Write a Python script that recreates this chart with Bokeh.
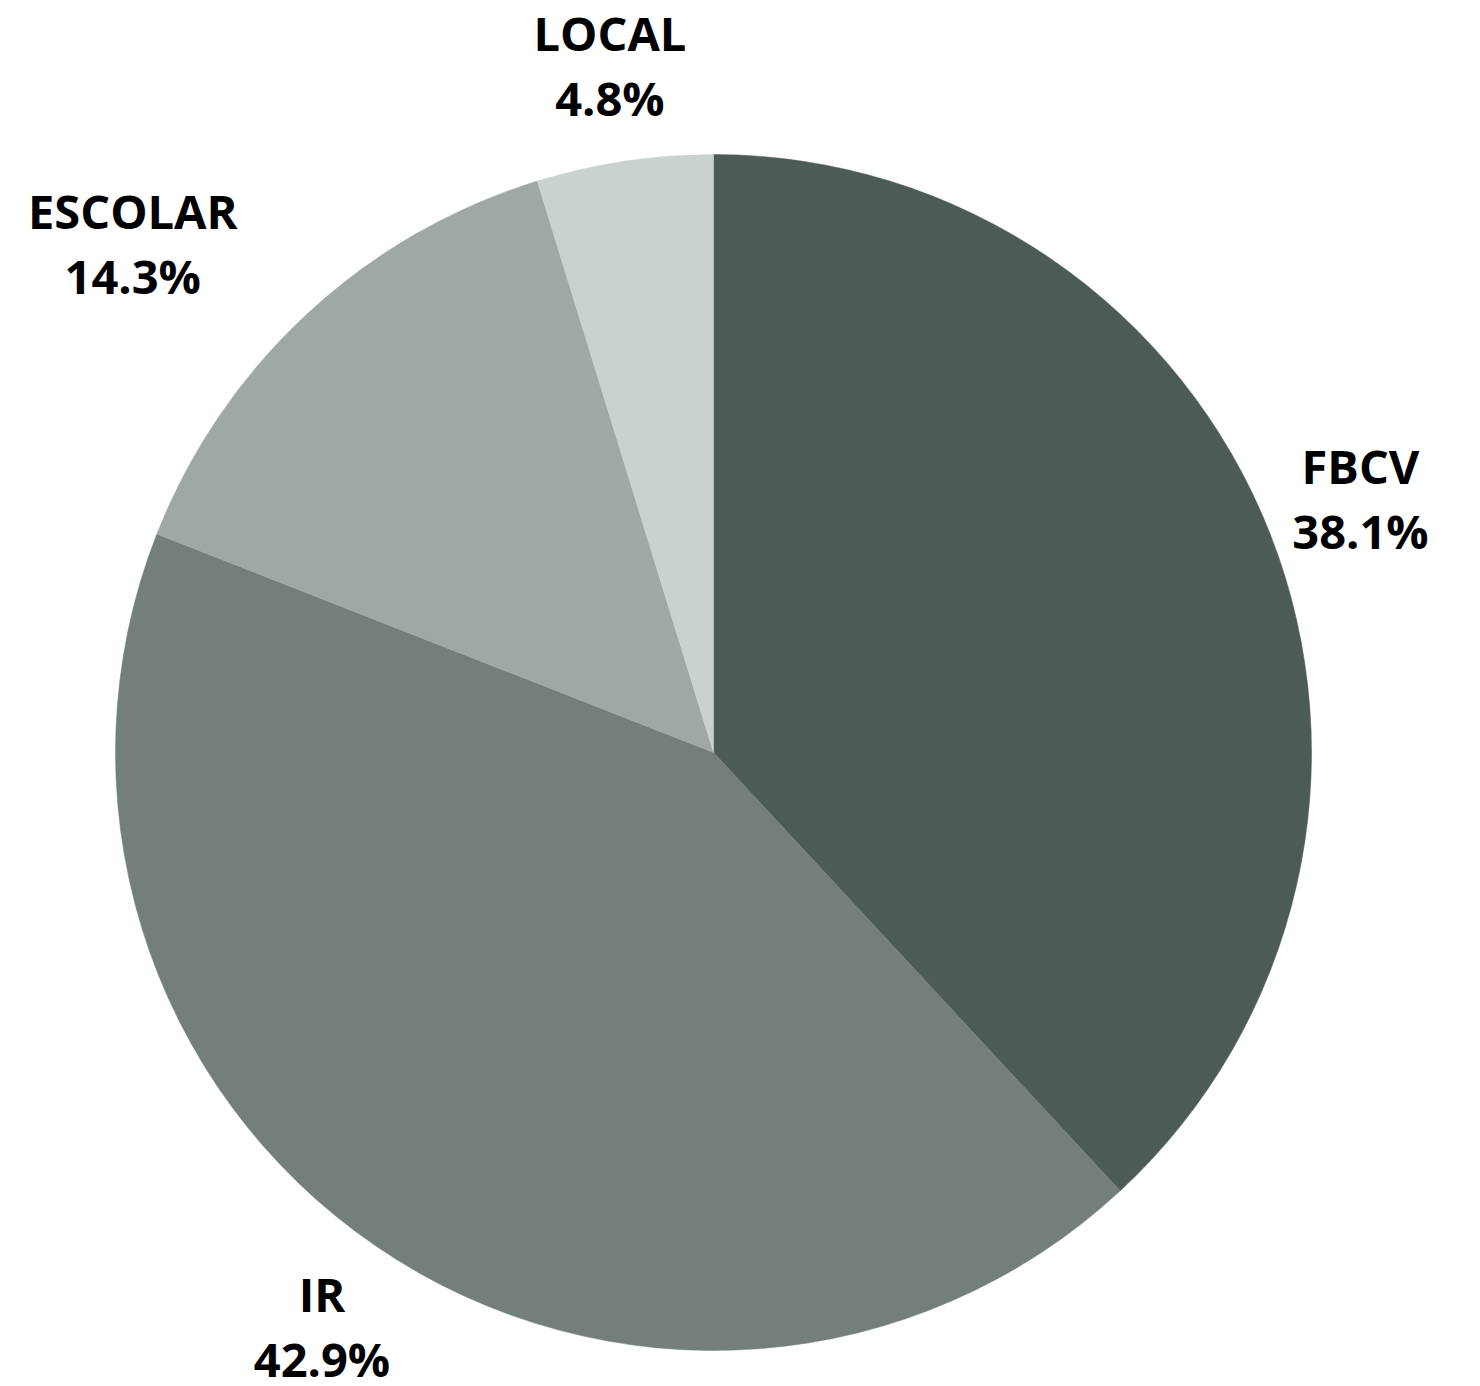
import math
from bokeh.plotting import figure
from bokeh.models import ColumnDataSource
from bokeh.core.properties import value
from bokeh.embed import file_html
from bokeh.resources import INLINE

categories = ["FBCV", "IR", "ESCOLAR", "LOCAL"]
counts = [8, 9, 3, 1]
colors = ["#4d5b58", "#747f7c", "#a0a8a7", "#c9d2d1"]

W, H = 1472, 1386
cx, cy = 713, 634
R = 598
LABEL_R = 695
nudge = {"ESCOLAR": (-108, 0)}

total = sum(counts)
starts, ends, lx, ly, pct = [], [], [], [], []
cum = 0
for c, v in zip(categories, counts):
    a0 = math.pi / 2 - 2 * math.pi * cum / total
    cum += v
    a1 = math.pi / 2 - 2 * math.pi * cum / total
    starts.append(a0)
    ends.append(a1)
    mid = (a0 + a1) / 2
    dx, dy = nudge.get(c, (0, 0))
    lx.append(cx + LABEL_R * math.cos(mid) + dx)
    ly.append(cy + LABEL_R * math.sin(mid) + dy)
    pct.append(f"{v / total * 100:.1f}%")

src = ColumnDataSource(dict(cat=categories, start=starts, end=ends, color=colors,
                            x=[cx] * len(categories), y=[cy] * len(categories),
                            lx=lx, ly_top=[y + 32.5 for y in ly], ly_bot=[y - 32.5 for y in ly],
                            pct=pct))

p = figure(width=W, height=H, x_range=(0, W), y_range=(0, H),
           output_backend="svg", toolbar_location=None, min_border=0)
p.axis.visible = False
p.grid.visible = False
p.outline_line_color = None
p.background_fill_color = "white"

p.wedge(x="x", y="y", radius=R, start_angle="start", end_angle="end",
        direction="clock", fill_color="color", line_color="color", line_width=0.5,
        source=src)

for col, field in (("ly_top", "cat"), ("ly_bot", "pct")):
    p.text(x="lx", y=col, text=field, source=src, text_align="center",
           text_baseline="middle", text_font=value("Open Sans"),
           text_font_style="bold", text_font_size="47px", text_color="#000000")

open("out.html", "w").write(file_html(p, INLINE))
